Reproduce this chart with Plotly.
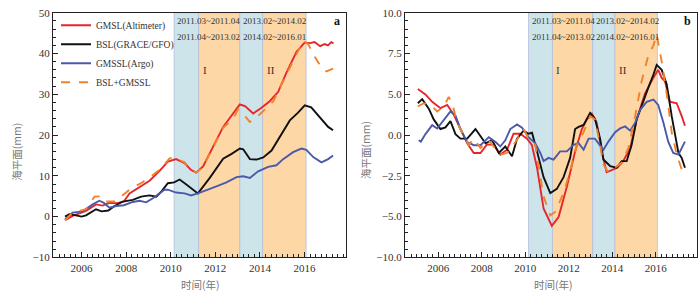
import plotly.graph_objects as go

# ---------------- data: panel a ----------------
gmsl_a_x = [2005.26, 2005.6, 2006.2, 2006.65, 2006.95, 2007.25, 2007.6, 2007.9, 2008.15, 2008.6, 2009.05, 2009.5,
            2009.87, 2010.24, 2010.62, 2010.9, 2011.14, 2011.45, 2011.9, 2012.35, 2012.73, 2013.1, 2013.33, 2013.7,
            2014.07, 2014.44, 2014.82, 2015.19, 2015.64, 2016.01, 2016.2, 2016.45, 2016.7, 2016.9, 2017.05, 2017.2, 2017.3]
gmsl_a_y = [-0.9, 0.2, 1.4, 3.0, 2.7, 3.4, 3.3, 3.7, 5.7, 7.3, 8.8, 11.2,
            13.5, 14.1, 13.1, 11.5, 10.8, 12.3, 17.3, 22.0, 24.8, 27.5, 27.1, 25.3,
            26.7, 28.3, 30.6, 35.3, 40.4, 42.7, 42.5, 42.8, 41.8, 42.3, 42.0, 42.8, 42.5]

bsl_a_x = [2005.26, 2005.45, 2005.75, 2006.0, 2006.2, 2006.65, 2006.9, 2007.2, 2007.48, 2007.85, 2008.3, 2008.67,
           2009.05, 2009.35, 2009.57, 2009.87, 2010.15, 2010.4, 2010.7, 2011.0, 2011.22, 2011.75, 2012.35, 2012.73,
           2013.1, 2013.25, 2013.55, 2013.85, 2014.15, 2014.52, 2014.9, 2015.34, 2015.71, 2016.01, 2016.3, 2016.61,
           2016.83, 2017.06, 2017.28]
bsl_a_y = [0.0, 0.6, 0.3, 0.0, 0.3, 1.8, 1.3, 1.5, 2.6, 3.7, 4.1, 4.9,
           5.2, 4.9, 6.1, 8.2, 8.4, 9.1, 7.9, 6.5, 5.7, 9.5, 14.2, 15.4,
           16.7, 16.5, 14.1, 14.0, 14.5, 16.2, 19.7, 23.6, 25.5, 27.3, 26.8, 24.8,
           23.2, 22.0, 21.2]

gmssl_a_x = [2005.26, 2005.6, 2006.05, 2006.5, 2006.8, 2007.0, 2007.25, 2007.55, 2007.9, 2008.3, 2008.6, 2008.9,
             2009.2, 2009.5, 2009.72, 2009.87, 2010.24, 2010.62, 2010.91, 2011.22, 2011.6, 2012.05, 2012.5, 2012.95,
             2013.25, 2013.55, 2013.92, 2014.37, 2014.74, 2015.04, 2015.49, 2015.86, 2016.08, 2016.39, 2016.76,
             2017.06, 2017.28]
gmssl_a_y = [-0.7, 1.0, 1.3, 3.0, 3.9, 3.4, 2.2, 2.6, 2.8, 3.6, 3.9, 3.5,
             4.5, 5.7, 6.6, 6.6, 5.9, 5.7, 5.2, 5.7, 6.4, 7.4, 8.4, 9.7,
             9.9, 9.5, 11.1, 12.2, 12.6, 14.1, 15.8, 16.7, 16.4, 14.6, 13.3,
             14.1, 15.0]

sum_a_x = [2005.26, 2005.6, 2006.2, 2006.58, 2006.9, 2007.1, 2007.5, 2007.78, 2008.22, 2008.67, 2009.05, 2009.5,
           2009.95, 2010.15, 2010.62, 2010.9, 2011.14, 2011.45, 2011.9, 2012.35, 2012.8, 2013.02, 2013.2, 2013.55,
           2014.0, 2014.6, 2015.19, 2015.94, 2016.16, 2016.46, 2016.76, 2016.98, 2017.28]
sum_a_y = [-0.9, 1.0, 1.8, 4.9, 5.0, 3.7, 3.7, 4.9, 6.9, 8.2, 9.6, 11.5,
           14.3, 14.5, 13.3, 11.4, 10.8, 12.2, 17.0, 21.8, 24.0, 26.3, 25.5, 23.2,
           25.1, 28.3, 34.9, 43.1, 42.3, 39.2, 36.5, 35.6, 36.3]

# ---------------- data: panel b ----------------
gmsl_b_x = [2005.06, 2005.41, 2005.72, 2006.1, 2006.41, 2006.71, 2007.02, 2007.33, 2007.63, 2007.94, 2008.24, 2008.55,
            2008.85, 2009.16, 2009.46, 2009.77, 2010.08, 2010.3, 2010.54, 2010.84, 2011.22, 2011.53, 2011.91, 2012.29,
            2012.6, 2012.83, 2013.06, 2013.28, 2013.51, 2013.74, 2013.97, 2014.24, 2014.5, 2014.82, 2015.12, 2015.5,
            2015.89, 2016.11, 2016.27, 2016.42, 2016.65, 2016.96, 2017.19, 2017.34]
gmsl_b_y = [2.83, 2.49, 2.04, 1.65, 1.85, 1.26, 0.37, -0.51, -1.1, -1.1, -0.57, -0.6,
            -1.2, -0.9, 0.08, 0.08, -0.22, -0.6, -2.0, -4.5, -5.57, -5.03, -3.17, -1.0,
            0.37, 0.96, 1.31, 0.77, -1.0, -2.28, -2.15, -1.99, -1.6, -0.8, 0.96, 2.54,
            3.52, 4.0, 3.5, 3.3, 2.04, 1.95, 1.16, 0.57]

bsl_b_x = [2005.06, 2005.26, 2005.57, 2005.79, 2006.1, 2006.33, 2006.56, 2006.79, 2007.02, 2007.33, 2007.71, 2007.94,
           2008.17, 2008.47, 2008.78, 2009.08, 2009.39, 2009.62, 2009.92, 2010.15, 2010.31, 2010.54, 2010.84, 2011.15,
           2011.45, 2011.76, 2012.06, 2012.29, 2012.45, 2012.68, 2012.83, 2012.98, 2013.2, 2013.44, 2013.59, 2013.9,
           2014.2, 2014.43, 2014.66, 2014.89, 2015.12, 2015.35, 2015.66, 2015.89, 2016.04, 2016.27, 2016.5, 2016.73,
           2016.88, 2017.04, 2017.19, 2017.34]
bsl_b_y = [1.95, 2.2, 1.6, 0.96, 0.37, 0.47, 0.86, 0.06, -0.22, -0.22, 0.37, -0.04,
           -0.5, -0.3, -1.1, -0.7, -1.3, -0.22, 0.27, 0.08, 0.14, -1.0, -2.58, -3.56,
           -3.3, -2.58, -1.4, 0.37, 0.5, 0.62, 0.99, 1.36, 1.0, -0.22, -1.5, -1.9,
           -2.0, -1.6, -1.6, -0.6, 0.96, 1.85, 2.92, 3.71, 4.3, 4.0, 3.12, 1.16,
           0.0, -1.1, -1.4, -2.0]

gmssl_b_x = [2005.1, 2005.2, 2005.41, 2005.72, 2005.95, 2006.26, 2006.56, 2006.79, 2007.02, 2007.33, 2007.63, 2007.94,
             2008.32, 2008.63, 2008.85, 2009.08, 2009.31, 2009.62, 2009.85, 2010.15, 2010.46, 2010.69, 2010.84, 2011.07,
             2011.3, 2011.6, 2011.91, 2012.22, 2012.45, 2012.68, 2012.91, 2013.2, 2013.44, 2013.59, 2013.82, 2014.13,
             2014.36, 2014.59, 2014.82, 2015.05, 2015.28, 2015.58, 2015.89, 2016.11, 2016.35, 2016.57, 2016.8, 2017.04,
             2017.19, 2017.34]
gmssl_b_y = [-0.32, -0.4, 0.06, 0.61, 0.4, 0.9, 1.45, 1.2, 0.37, -0.43, -0.62, -0.62,
             -0.13, -0.43, -0.7, -0.32, 0.37, 0.65, 0.45, -0.13, -0.5, -1.1, -1.6, -1.4,
             -1.5, -1.0, -1.0, -0.6, -0.5, -0.9, -0.22, -0.22, -0.6, -0.9, -0.4, 0.18,
             0.41, 0.53, 0.27, 0.76, 1.55, 2.04, 2.18, 1.85, 0.76, -0.41, -1.1, -1.2,
             -0.8, -0.4]

sum_b_x = [2005.06, 2005.33, 2005.64, 2005.95, 2006.26, 2006.48, 2006.64, 2006.87, 2007.17, 2007.4, 2007.63, 2007.94,
           2008.32, 2008.63, 2008.85, 2009.16, 2009.46, 2009.69, 2009.92, 2010.15, 2010.46, 2010.6, 2010.84, 2011.15,
           2011.38, 2011.76, 2012.06, 2012.37, 2012.68, 2012.98, 2013.2, 2013.44, 2013.59, 2013.82, 2014.13, 2014.43,
           2014.74, 2015.05, 2015.35, 2015.66, 2015.89, 2016.04, 2016.27, 2016.5, 2016.73, 2016.96, 2017.19, 2017.34]
sum_b_y = [1.75, 1.95, 1.85, 1.45, 1.75, 2.34, 1.95, 0.76, -0.04, -0.6, -0.22, -0.8,
           -0.32, -0.8, -1.2, -1.1, -0.6, -0.13, 0.37, -0.22, -0.6, -1.8, -3.76, -4.93,
           -4.7, -3.56, -2.2, -0.6, 0.18, 1.16, 0.96, -0.6, -1.8, -2.28, -2.0, -1.7,
           -0.8, 1.16, 3.32, 4.9, 5.5, 6.17, 4.5, 2.54, 0.18, -1.2, -2.1, -2.2]

# shaded periods (start, end) and labels
period_bounds = [2010.15, 2011.25, 2013.1, 2014.12, 2016.07]
period_top_labels = ["2011.03~2011.04", "2013.02~2014.02"]
period_sub_labels = ["2011.04~2013.02", "2014.02~2016.01"]
phase_labels = ["I", "II"]

# panel b tick labels (as printed)
b_tickvals = [7.5, 5, 2.5, 0, -2.5, -5, -7.5]
b_ticktext = ["10.0", "7.5", "5.0", "0.0", "\u22122.5", "\u22125.0", "\u221210.0"]

series_names = ["GMSL(Altimeter)", "BSL(GRACE/GFO)", "GMSSL(Argo)", "BSL+GMSSL"]
series_colors = ["#e8262a", "#111111", "#4b5aa8", "#f0822c"]

SERIF = "Liberation Serif"
CJK = "Noto Sans CJK SC"

fig = go.Figure()

panel_data = [
    ("x", "y", [(gmsl_a_x, gmsl_a_y), (bsl_a_x, bsl_a_y), (gmssl_a_x, gmssl_a_y), (sum_a_x, sum_a_y)]),
    ("x2", "y2", [(gmsl_b_x, gmsl_b_y), (bsl_b_x, bsl_b_y), (gmssl_b_x, gmssl_b_y), (sum_b_x, sum_b_y)]),
]
for pi, (xa, ya, series) in enumerate(panel_data):
    for si, (xs, ys) in enumerate(series):
        fig.add_trace(go.Scatter(
            x=xs, y=ys, xaxis=xa, yaxis=ya, mode="lines",
            name=series_names[si], showlegend=(pi == 0),
            line=dict(color=series_colors[si], width=1.9, dash="dash" if si == 3 else "solid"),
        ))

# shading
shade_colors = ["#cde5ea", "#fdd7a6", "#cde5ea", "#fdd7a6"]
for xa in ["x", "x2"]:
    for i in range(4):
        fig.add_shape(type="rect", xref=xa, yref=("y" if xa == "x" else "y2") + " domain",
                      x0=period_bounds[i], x1=period_bounds[i + 1], y0=0, y1=1,
                      fillcolor=shade_colors[i], line=dict(color="#b3bfdc", width=0.8), layer="below")

# text annotations
ann = []
for xa, ya, letter in [("x", "y", "a"), ("x2", "y2", "b")]:
    for k in range(2):
        ann.append(dict(x=period_bounds[2 * k], y=0.965, xref=xa, yref=ya + " domain", text=period_top_labels[k],
                        showarrow=False, xanchor="left", yanchor="middle", xshift=1,
                        font=dict(family=SERIF, size=9, color="#333333")))
        ann.append(dict(x=period_bounds[2 * k], y=0.902, xref=xa, yref=ya + " domain", text=period_sub_labels[k],
                        showarrow=False, xanchor="left", yanchor="middle", xshift=1,
                        font=dict(family=SERIF, size=9, color="#333333")))
        ann.append(dict(x=period_bounds[2 * k + 1], y=0.767, xref=xa, yref=ya + " domain", text=phase_labels[k],
                        showarrow=False, xanchor="left", yanchor="middle", xshift=2,
                        font=dict(family=SERIF, size=11, color="#333333")))
    ann.append(dict(x=0.97, y=0.965, xref=xa + " domain", yref=ya + " domain", text="<b>" + letter + "</b>",
                    showarrow=False, xanchor="center", yanchor="middle",
                    font=dict(family=SERIF, size=12, color="#111111")))

for xp, yp, txt, ang in [(17, 152, "海平面(mm)", -90), (366, 150, "海平面(mm)", -90),
                         (200, 290, "时间(年)", 0), (553, 290, "时间(年)", 0)]:
    ann.append(dict(x=xp / 700, y=1 - yp / 297, xref="paper", yref="paper", text=txt, textangle=ang,
                    showarrow=False, xanchor="center", yanchor="middle",
                    font=dict(family=CJK, size=10.5, color="#777777")))

axis_common = dict(showline=True, linecolor="#222222", linewidth=1, mirror=True, ticks="inside",
                   ticklen=5, tickwidth=1, tickcolor="#222222", showgrid=False, zeroline=False,
                   tickfont=dict(family=SERIF, size=11, color="#333333"))

fig.update_layout(
    width=700, height=297, margin=dict(l=0, r=0, t=0, b=0),
    paper_bgcolor="white", plot_bgcolor="white",
    xaxis=dict(domain=[53 / 700, 346 / 700], range=[2004.72, 2017.86], anchor="y",
               tickvals=[2006, 2008, 2010, 2012, 2014, 2016],
               minor=dict(tickmode="linear", tick0=2006, dtick=0.25, ticks="inside", ticklen=3, tickcolor="#222222"),
               **axis_common),
    yaxis=dict(domain=[35 / 297, 290 / 297], range=[-10, 50], anchor="x",
               tickvals=[-10, 0, 10, 20, 30, 40, 50],
               minor=dict(tickmode="linear", tick0=0, dtick=2, ticks="inside", ticklen=3, tickcolor="#222222"),
               **axis_common),
    xaxis2=dict(domain=[405 / 700, 696.5 / 700], range=[2004.47, 2017.87], anchor="y2",
                tickvals=[2006, 2008, 2010, 2012, 2014, 2016],
                minor=dict(tickmode="linear", tick0=2006, dtick=0.25, ticks="inside", ticklen=3, tickcolor="#222222"),
                **axis_common),
    yaxis2=dict(domain=[35 / 297, 290 / 297], range=[-7.5, 7.5], anchor="x2",
                tickvals=b_tickvals, ticktext=b_ticktext,
                minor=dict(tickmode="linear", tick0=0, dtick=0.5, ticks="inside", ticklen=3, tickcolor="#222222"),
                **axis_common),
    legend=dict(x=56 / 700, y=1 - 5 / 297, xanchor="left", yanchor="top", bgcolor="rgba(0,0,0,0)",
                font=dict(family=SERIF, size=9.5, color="#333333"), borderwidth=0),
    annotations=ann,
)

fig.write_html("out.html", config={"displayModeBar": False},
               post_script="document.body.style.margin='0px';")
